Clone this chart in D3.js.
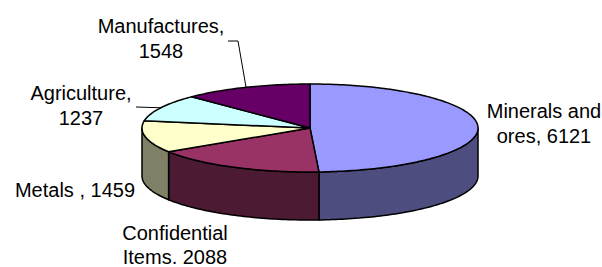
<!DOCTYPE html>
<html>
<head>
<meta charset="utf-8">
<script src="https://cdn.jsdelivr.net/npm/d3@7"></script>
<style>
  html, body { margin: 0; padding: 0; background: #fff; }
  svg { display: block; }
  text { font-family: "Liberation Sans", Arial, sans-serif; font-size: 20px; fill: #000; }
</style>
</head>
<body>
<svg id="chart" width="602" height="267"></svg>
<script>
// ---- data ----
const categories = ["Minerals and ores", "Confidential Items", "Metals", "Agriculture", "Manufactures"];
const values = [6121, 2088, 1459, 1237, 1548];
const labelLines = [
  ["Minerals and", "ores, 6121"],
  ["Confidential", "Items. 2088"],
  ["Metals , 1459"],
  ["Agriculture,", "1237"],
  ["Manufactures,", "1548"]
];

// ---- styles / layout ----
const topColors  = ["#9999FF", "#993366", "#FFFFCC", "#CCFFFF", "#660066"];
const sideColors = ["#4D4D80", "#4D1A33", "#808066", "#668080", "#330033"];
const labelPos = [ // centre x, first baseline y
  [544, 118], [175, 240], [75, 197], [81, 100], [161, 33]
];
const lineGap = [25, 24, 25, 25, 25];
const leaderStart = { 3: [[136, 107]], 4: [[228, 41], [238, 41]] };

const cx = 310, cy = 128, rx = 168, ry = 44, depth = 48;

const svg = d3.select("#chart");
const pie = d3.pie().sort(null).startAngle(0).endAngle(2 * Math.PI)(values);

const px = a => cx + rx * Math.sin(a);
const py = a => cy - ry * Math.cos(a);
const line = d3.line();

function arcPts(a0, a1, dy) {
  const n = Math.max(2, Math.ceil(Math.abs(a1 - a0) / 0.02));
  return d3.range(n + 1).map(i => {
    const a = a0 + (a1 - a0) * i / n;
    return [px(a), py(a) + dy];
  });
}

// side walls (visible front half: angles between PI/2 and 3PI/2)
pie.forEach((d, i) => {
  const a0 = Math.max(d.startAngle, Math.PI / 2);
  const a1 = Math.min(d.endAngle, 3 * Math.PI / 2);
  if (a1 <= a0) return;
  const pts = arcPts(a0, a1, 0).concat(arcPts(a1, a0, depth));
  svg.append("path")
    .attr("d", line(pts) + "Z")
    .attr("fill", sideColors[i])
    .attr("stroke", "#000")
    .attr("stroke-width", 1.5)
    .attr("stroke-linejoin", "round");
});

// top faces
pie.forEach((d, i) => {
  const pts = [[cx, cy]].concat(arcPts(d.startAngle, d.endAngle, 0));
  svg.append("path")
    .attr("d", line(pts) + "Z")
    .attr("fill", topColors[i])
    .attr("stroke", "#000")
    .attr("stroke-width", 1.5)
    .attr("stroke-linejoin", "round");
});

// leader lines
pie.forEach((d, i) => {
  if (!leaderStart[i]) return;
  const mid = (d.startAngle + d.endAngle) / 2;
  const pts = leaderStart[i].concat([[px(mid), py(mid)]]);
  svg.append("path")
    .attr("d", line(pts))
    .attr("fill", "none")
    .attr("stroke", "#000")
    .attr("stroke-width", 1);
});

// labels
labelLines.forEach((lines, i) => {
  const t = svg.append("text")
    .attr("text-anchor", "middle")
    .attr("x", labelPos[i][0])
    .attr("y", labelPos[i][1]);
  lines.forEach((s, j) => {
    t.append("tspan")
      .attr("x", labelPos[i][0])
      .attr("dy", j === 0 ? 0 : lineGap[i])
      .text(s);
  });
});
</script>
</body>
</html>
